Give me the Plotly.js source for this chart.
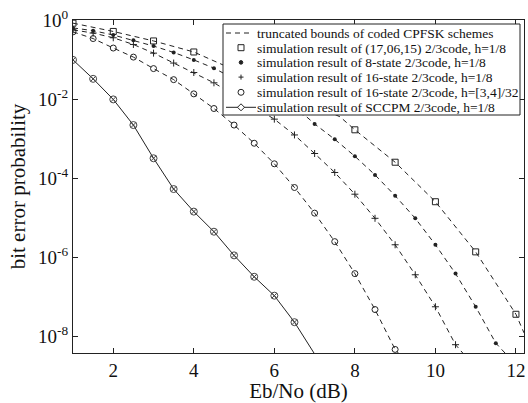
<!DOCTYPE html>
<html><head><meta charset="utf-8">
<script src="https://cdn.plot.ly/plotly-3.0.1.min.js"></script>
<style>html,body{margin:0;padding:0;background:#fff}</style>
</head><body><div id="chart" style="width:528px;height:403px"></div>
<script>
// ---- data: Eb/No (dB) vs bit error probability ----
// truncated bounds (dashed)
const boundSqX   = [1, 2, 3, 4, 7.63, 8, 9, 10, 11, 12, 12.2];
const boundSqBer = [0.832, 0.513, 0.295, 0.155, 3.55e-3, 1.66e-3, 2.51e-4, 2.51e-5, 1.35e-6, 3.55e-8, 1.2e-8];
const boundS8X   = [1, 1.5, 2, 2.5, 3, 3.5, 4, 4.5, 6.8, 7, 7.5, 8, 8.5, 9, 9.5, 10, 10.5, 11, 11.5, 11.74];
const boundS8Ber = [0.631, 0.537, 0.417, 0.309, 0.219, 0.151, 0.0977, 0.0603, 3.55e-3, 2.34e-3, 9.55e-4, 3.55e-4, 1.2e-4, 3.55e-5, 9.55e-6, 2.04e-6, 3.8e-7, 5.5e-8, 6.6e-9, 3.6e-9];
const boundS16X  = [1, 1.5, 2, 2.5, 3, 3.5, 4, 4.5, 6, 6.5, 7, 7.5, 8, 8.5, 9, 9.5, 10, 10.5, 10.69];
const boundS16Ber= [0.562, 0.468, 0.355, 0.24, 0.145, 0.0813, 0.0468, 0.0257, 3.09e-3, 1.23e-3, 4.17e-4, 1.38e-4, 3.89e-5, 9.55e-6, 2.04e-6, 3.55e-7, 5.5e-8, 6.03e-9, 3.6e-9];
const boundMhX   = [1, 1.5, 2, 2.5, 3, 3.5, 4, 4.5, 5, 5.5, 6, 6.5, 7, 7.5, 8, 8.5, 9, 9.1];
const boundMhBer = [0.501, 0.339, 0.195, 0.115, 0.0589, 0.0309, 0.0135, 5.75e-3, 2.19e-3, 7.59e-4, 2.29e-4, 5.75e-5, 1.29e-5, 2.45e-6, 3.8e-7, 4.68e-8, 4.57e-9, 3.5e-9];

// simulation results (markers)
const simSqX   = [1, 2, 3, 4, 8, 9, 10, 11, 12];
const simSqBer = [0.832, 0.513, 0.295, 0.155, 1.66e-3, 2.51e-4, 2.51e-5, 1.35e-6, 3.55e-8];
const simS8X   = [1, 1.5, 2, 2.5, 3, 3.5, 4, 4.5, 7, 7.5, 8, 8.5, 9, 9.5, 10, 10.5, 11, 11.5];
const simS8Ber = [0.631, 0.537, 0.417, 0.309, 0.219, 0.151, 0.0977, 0.0603, 2.34e-3, 9.55e-4, 3.55e-4, 1.2e-4, 3.55e-5, 9.55e-6, 2.04e-6, 3.8e-7, 5.5e-8, 6.6e-9];
const simS16X  = [1, 1.5, 2, 2.5, 3, 3.5, 4, 4.5, 6, 6.5, 7, 7.5, 8, 8.5, 9, 9.5, 10, 10.5];
const simS16Ber= [0.562, 0.468, 0.355, 0.24, 0.145, 0.0813, 0.0468, 0.0257, 3.09e-3, 1.23e-3, 4.17e-4, 1.38e-4, 3.89e-5, 9.55e-6, 2.04e-6, 3.55e-7, 5.5e-8, 6.03e-9];
const simMhX   = [1, 1.5, 2, 2.5, 3, 3.5, 4, 4.5, 5, 5.5, 6, 6.5, 7, 7.5, 8, 8.5, 9];
const simMhBer = [0.501, 0.339, 0.195, 0.115, 0.0589, 0.0309, 0.0135, 5.75e-3, 2.19e-3, 7.59e-4, 2.29e-4, 5.75e-5, 1.29e-5, 2.45e-6, 3.8e-7, 4.68e-8, 4.57e-9];
const sccpmX   = [1, 1.5, 2, 2.5, 3, 3.5, 4, 4.5, 5, 5.5, 6, 6.5];
const sccpmBer = [0.0977, 0.0324, 9.77e-3, 2.19e-3, 3.16e-4, 5.25e-5, 1.41e-5, 4.37e-6, 1.1e-6, 3.16e-7, 1.05e-7, 2.24e-8];
const sccpmTailX = [7.0];
const sccpmTailBer = [3.5e-9];

const legendLabels = [
  'truncated bounds of coded CPFSK schemes',
  'simulation result of (17,06,15) 2/3code, h=1/8',
  'simulation result of 8-state 2/3code, h=1/8',
  'simulation result of 16-state 2/3code, h=1/8',
  'simulation result of 16-state 2/3code, h=[3,4]/32',
  'simulation result of SCCPM 2/3code, h=1/8'
];
const xTicks = [2, 4, 6, 8, 10, 12];
const yTicks = [1, 1e-2, 1e-4, 1e-6, 1e-8];
const yTickText = ['10<sup>0</sup>', '10<sup>-2</sup>', '10<sup>-4</sup>', '10<sup>-6</sup>', '10<sup>-8</sup>'];

// ---- layout geometry ----
const W = 528, H = 403, ML = 73, MR = 4, MT = 20, MB = 50;
const PW = W - ML - MR, PH = H - MT - MB;
const px = p => (p - ML) / PW;
const py = p => 1 - (p - MT) / PH;
const SERIF = 'Liberation Serif, Times New Roman, serif';
const INK = '#222';

const dashLine = {color: INK, width: 1, dash: '5px,4px'};
const traces = [];
[[boundSqX, boundSqBer], [boundS8X, boundS8Ber], [boundS16X, boundS16Ber], [boundMhX, boundMhBer]].forEach(([x, y]) => {
  traces.push({x, y, type: 'scatter', mode: 'lines', line: dashLine, hoverinfo: 'skip', showlegend: false});
});
traces.push({x: simSqX, y: simSqBer, type: 'scatter', mode: 'markers', showlegend: false,
  marker: {symbol: 'square-open', size: 6, color: INK, line: {width: 1, color: INK}}});
traces.push({x: simS8X, y: simS8Ber, type: 'scatter', mode: 'markers', showlegend: false,
  marker: {symbol: 'circle', size: 4, color: INK}});
traces.push({x: simS16X, y: simS16Ber, type: 'scatter', mode: 'markers', showlegend: false,
  marker: {symbol: 'cross-thin-open', size: 5, color: INK, line: {width: 1, color: INK}}});
traces.push({x: simMhX, y: simMhBer, type: 'scatter', mode: 'markers', showlegend: false,
  marker: {symbol: 'circle-open', size: 6, color: INK, line: {width: 1, color: INK}}});
traces.push({x: sccpmX.concat(sccpmTailX), y: sccpmBer.concat(sccpmTailBer), type: 'scatter', mode: 'lines',
  line: {color: INK, width: 1}, showlegend: false, hoverinfo: 'skip'});
traces.push({x: sccpmX, y: sccpmBer, type: 'scatter', mode: 'markers', showlegend: false,
  marker: {symbol: 'circle-x-open', size: 7, color: '#444', line: {width: 1, color: '#444'}}});

// ---- legend box drawn with shapes + annotations ----
const boxL = 223, boxR = 520, boxT = 24, boxB = 115;
const rowY = [33, 47.7, 62.4, 77.1, 92.3, 107.3];
const symX = 241, textX = 256;
const shapes = [
  {type: 'rect', xref: 'paper', yref: 'paper', x0: px(boxL), x1: px(boxR), y0: py(boxB), y1: py(boxT),
   fillcolor: '#fff', line: {color: INK, width: 1}, layer: 'above'},
  {type: 'line', xref: 'paper', yref: 'paper', x0: px(226), x1: px(253), y0: py(rowY[0]), y1: py(rowY[0]),
   line: dashLine, layer: 'above'},
  {type: 'rect', xref: 'paper', yref: 'paper', x0: px(symX-3), x1: px(symX+3), y0: py(rowY[1]+3), y1: py(rowY[1]-3),
   line: {color: INK, width: 1}, layer: 'above'},
  {type: 'circle', xref: 'paper', yref: 'paper', x0: px(symX-1.8), x1: px(symX+1.8), y0: py(rowY[2]+1.8), y1: py(rowY[2]-1.8),
   fillcolor: INK, line: {color: INK, width: 1}, layer: 'above'},
  {type: 'line', xref: 'paper', yref: 'paper', x0: px(symX-2.5), x1: px(symX+2.5), y0: py(rowY[3]), y1: py(rowY[3]),
   line: {color: INK, width: 1}, layer: 'above'},
  {type: 'line', xref: 'paper', yref: 'paper', x0: px(symX), x1: px(symX), y0: py(rowY[3]+2.5), y1: py(rowY[3]-2.5),
   line: {color: INK, width: 1}, layer: 'above'},
  {type: 'circle', xref: 'paper', yref: 'paper', x0: px(symX-3), x1: px(symX+3), y0: py(rowY[4]+3), y1: py(rowY[4]-3),
   line: {color: INK, width: 1}, layer: 'above'},
  {type: 'line', xref: 'paper', yref: 'paper', x0: px(226), x1: px(256), y0: py(rowY[5]), y1: py(rowY[5]),
   line: {color: INK, width: 1}, layer: 'above'},
  {type: 'path', xref: 'paper', yref: 'paper',
   path: `M ${px(symX-3.5)} ${py(rowY[5])} L ${px(symX)} ${py(rowY[5]-3.5)} L ${px(symX+3.5)} ${py(rowY[5])} L ${px(symX)} ${py(rowY[5]+3.5)} Z`,
   fillcolor: '#fff', line: {color: INK, width: 1}, layer: 'above'}
];
const annotations = legendLabels.map((t, i) => ({
  text: t, xref: 'paper', yref: 'paper', x: px(textX), y: py(rowY[i]), xanchor: 'left', yanchor: 'middle',
  showarrow: false, font: {family: SERIF, size: 13.5, color: '#111'}, borderpad: 0, height: 14, valign: 'middle'
}));

const axisBase = {showline: true, linecolor: INK, linewidth: 1, mirror: 'ticks', ticks: 'inside', ticklen: 5,
  tickcolor: INK, showgrid: false, zeroline: false, tickfont: {family: SERIF, size: 19, color: '#111'}};

const layout = {
  width: W, height: H, margin: {l: ML, r: MR, t: MT, b: MB},
  paper_bgcolor: '#fff', plot_bgcolor: '#fff', showlegend: false,
  xaxis: Object.assign({}, axisBase, {range: [1, 12.2], tickvals: xTicks, ticktext: xTicks.map(String),
    title: {text: 'Eb/No (dB)', font: {family: SERIF, size: 21, color: '#111'}, standoff: 9}}),
  yaxis: Object.assign({}, axisBase, {type: 'log', range: [-8.43, 0], tickvals: yTicks, ticktext: yTickText,
    title: {text: 'bit error probability', font: {family: SERIF, size: 21, color: '#111'}, standoff: 6}}),
  shapes, annotations
};
Plotly.newPlot('chart', traces, layout, {displayModeBar: false, staticPlot: true});
</script></body></html>
